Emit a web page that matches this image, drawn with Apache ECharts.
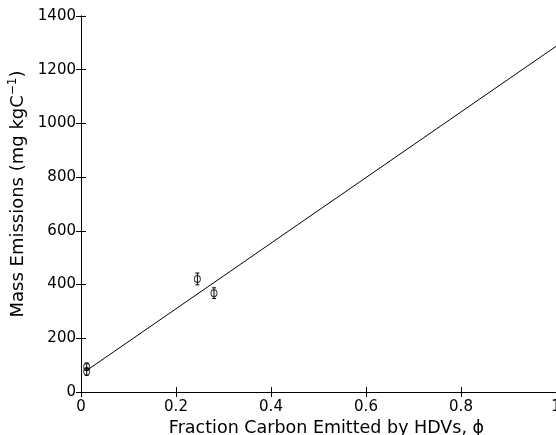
<!DOCTYPE html>
<html>
<head>
<meta charset="utf-8">
<script src="https://cdn.jsdelivr.net/npm/echarts@6/dist/echarts.min.js"></script>
<style>html,body{margin:0;padding:0;background:#fff;overflow:hidden;}#c{width:556px;height:435px;}</style>
</head>
<body>
<div id="c"></div>
<script>
// Data
var phi = [0.012, 0.012, 0.245, 0.280];
var mass = [94, 76, 421, 368];
var massErr = [14, 14, 22, 20];
var fitPhi = [0.011, 1.0];
var fitMass = [79, 1287];
var xTicks = [0, 0.2, 0.4, 0.6, 0.8, 1];
var yTicks = [0, 200, 400, 600, 800, 1000, 1200, 1400];

var FONT = 'DejaVu Sans';
var pts = phi.map(function (p, i) { return [p, mass[i]]; });
var errPts = phi.map(function (p, i) { return [p, mass[i], massErr[i]]; });
var fitPts = fitPhi.map(function (p, i) { return [p, fitMass[i]]; });
var plain = function (v) { return String(Math.round(v * 1000) / 1000); };

var axBase = function (min, max, interval) {
  return {
    type: 'value', min: min, max: max, interval: interval,
    axisLine: { show: true, lineStyle: { color: '#000', width: 1 } },
    axisTick: { show: true, inside: true, length: 5, lineStyle: { color: '#000', width: 1 } },
    splitLine: { show: false }
  };
};

var xb = Object.assign(axBase(xTicks[0], xTicks[xTicks.length - 1], 0.2), {
  position: 'bottom',
  axisLabel: { color: '#000', fontSize: 15, fontFamily: FONT, margin: 8, formatter: plain },
  name: 'Fraction Carbon Emitted by HDVs, \u03D5',
  nameLocation: 'middle', nameGap: 20,
  nameTextStyle: { color: '#000', fontSize: 17.5, fontFamily: FONT, padding: [0, 0, 0, 16] }
});
var xt = Object.assign(axBase(xTicks[0], xTicks[xTicks.length - 1], 0.2), {
  position: 'top', axisLabel: { show: false }
});
var yl = Object.assign(axBase(yTicks[0], yTicks[yTicks.length - 1], 200), {
  position: 'left',
  axisLabel: { color: '#000', fontSize: 15, fontFamily: FONT, margin: 5, formatter: plain },
  name: '{a|Mass Emissions (mg kgC}{s|\u22121}{a|)}',
  nameLocation: 'middle', nameGap: 49, nameRotate: 90,
  nameTextStyle: {
    color: '#000', fontSize: 18, fontFamily: FONT, padding: [0, 0, 0, 20],
    rich: {
      a: { fontSize: 18, fontFamily: FONT, color: '#000' },
      s: { fontSize: 12, fontFamily: FONT, color: '#000', padding: [0, 0, 10, 0] }
    }
  }
});
var yr = Object.assign(axBase(yTicks[0], yTicks[yTicks.length - 1], 200), {
  position: 'right', axisLabel: { show: false }
});

var chart = echarts.init(document.getElementById('c'), null, { renderer: 'canvas' });
chart.setOption({
  animation: false,
  backgroundColor: '#fff',
  grid: { left: 81, top: 16, width: 475, height: 376, containLabel: false, outerBoundsMode: 'none' },
  xAxis: [xb, xt],
  yAxis: [yl, yr],
  series: [
    {
      type: 'line', data: fitPts, xAxisIndex: 0, yAxisIndex: 0,
      showSymbol: false, symbol: 'none',
      lineStyle: { color: '#000', width: 1 }, clip: true, z: 2
    },
    {
      type: 'custom', xAxisIndex: 0, yAxisIndex: 0, data: errPts, z: 3,
      renderItem: function (params, api) {
        var x = api.value(0), y = api.value(1), e = api.value(2);
        var lo = api.coord([x, y - e]);
        var hi = api.coord([x, y + e]);
        var cw = 2;
        var st = { stroke: '#000', lineWidth: 1 };
        return {
          type: 'group',
          children: [
            { type: 'line', shape: { x1: lo[0], y1: lo[1], x2: hi[0], y2: hi[1] }, style: st },
            { type: 'line', shape: { x1: lo[0] - cw, y1: lo[1], x2: lo[0] + cw, y2: lo[1] }, style: st },
            { type: 'line', shape: { x1: hi[0] - cw, y1: hi[1], x2: hi[0] + cw, y2: hi[1] }, style: st }
          ]
        };
      }
    },
    {
      type: 'scatter', xAxisIndex: 0, yAxisIndex: 0, data: pts, z: 4,
      symbol: 'circle', symbolSize: [6, 7],
      itemStyle: { color: 'rgba(0,0,0,0)', borderColor: '#000', borderWidth: 1 }
    }
  ]
});
</script>
</body>
</html>
